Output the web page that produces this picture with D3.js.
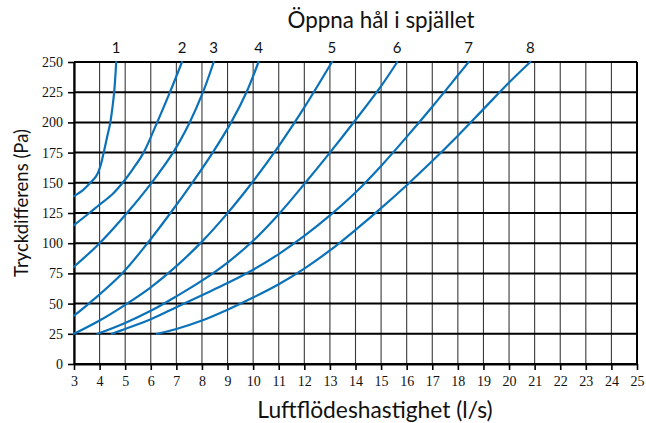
<!DOCTYPE html>
<html>
<head>
<meta charset="utf-8">
<script src="https://cdn.jsdelivr.net/npm/d3@7"></script>
<style>
  body { margin: 0; background: #fff; }
  svg { display: block; }
</style>
</head>
<body>
<div id="app"></div>
<script>
// opening labels (number of open holes in the damper)
const holes = ["1", "2", "3", "4", "5", "6", "7", "8"];

// each curve: [flow l/s, pressure Pa]
const curve1 = [[3, 139], [3.35, 144], [3.64, 150], [3.88, 156], [4.02, 163], [4.15, 174], [4.29, 187.5], [4.42, 200], [4.5, 212], [4.57, 225], [4.65, 250]];
const curve2 = [[3, 115], [3.6, 125], [4, 132], [4.5, 140.5], [4.9, 150], [5.32, 162], [5.72, 175], [6.25, 200], [6.75, 225], [7.22, 250]];
const curve3 = [[3, 80.5], [4, 100], [5.07, 125], [6.03, 150], [6.87, 175], [7.52, 200], [8.04, 225], [8.46, 250]];
const curve4 = [[3, 40], [3.58, 50], [4.88, 75], [5.87, 100], [6.77, 125], [7.62, 150], [8.42, 175], [9.14, 200], [9.74, 225], [10.21, 250]];
const curve5 = [[3, 25], [4, 36], [5, 49], [6, 63.5], [7, 81], [8, 101.3], [9, 124.9], [10, 151.3], [11, 180.4], [12, 212.4], [13.08, 250]];
const curve6 = [[3.92, 25], [5, 34], [6, 44], [7, 56], [8, 69], [9, 84], [10, 102], [11, 124], [12, 149], [13, 175], [14, 202], [15, 230], [15.63, 250]];
const curve7 = [[4.48, 25], [5, 29], [6, 37], [7, 47], [8, 57], [9, 67], [10, 78], [11, 91], [12, 106], [13, 123], [14, 142], [15, 164], [16, 188], [17, 213], [18, 239], [18.42, 250]];
const curve8 = [[6.24, 25], [7, 29], [8, 36], [9, 45], [10, 55], [11, 66], [12, 79], [13, 94], [14, 111], [15, 129], [16, 148], [17, 168], [18, 189], [19, 211], [20, 233], [20.83, 250]];
const curves = [curve1, curve2, curve3, curve4, curve5, curve6, curve7, curve8];

const xTicks = d3.range(3, 26);
const yTicks = [0, 25, 50, 75, 100, 125, 150, 175, 200, 225, 250];

const width = 646;
const height = 423;
const margin = { top: 62, right: 9, bottom: 59, left: 74 };

const svg = d3
  .select("#app")
  .append("svg")
  .attr("width", width)
  .attr("height", height)
  .attr("viewBox", [0, 0, width, height]);

const x = d3.scaleLinear().domain([3, 25]).range([margin.left, width - margin.right]);
const y = d3.scaleLinear().domain([0, 250]).range([height - margin.bottom, margin.top]);

const blue = "#0b72b9";

// vertical grid
svg
  .append("g")
  .selectAll("line")
  .data(xTicks)
  .join("line")
  .attr("x1", (d) => x(d))
  .attr("x2", (d) => x(d))
  .attr("y1", y(0))
  .attr("y2", y(250))
  .attr("stroke", "#3a3a3a")
  .attr("stroke-width", 1.1);

// horizontal grid
svg
  .append("g")
  .selectAll("line")
  .data(yTicks)
  .join("line")
  .attr("x1", x(3))
  .attr("x2", x(25))
  .attr("y1", (d) => y(d))
  .attr("y2", (d) => y(d))
  .attr("stroke", "#000")
  .attr("stroke-width", 2);

// right border
svg
  .append("line")
  .attr("x1", x(25))
  .attr("x2", x(25))
  .attr("y1", y(0))
  .attr("y2", y(250))
  .attr("stroke", "#000")
  .attr("stroke-width", 2);

// axes
const xAxis = svg
  .append("g")
  .attr("transform", `translate(0,${y(0)})`)
  .call(d3.axisBottom(x).tickValues(xTicks).tickSize(6).tickSizeOuter(0).tickPadding(6));

const yAxis = svg
  .append("g")
  .attr("transform", `translate(${x(3)},0)`)
  .call(d3.axisLeft(y).tickValues(yTicks).tickSize(6).tickSizeOuter(0).tickPadding(5));

[xAxis, yAxis].forEach((a) => {
  a.select(".domain").attr("stroke", "#000").attr("stroke-width", 2.2);
  a.selectAll(".tick line").attr("stroke", "#000").attr("stroke-width", 1.6);
  a.selectAll(".tick text")
    .attr("fill", "#111")
    .style("font-family", "'Liberation Serif', serif")
    .style("font-size", "14px");
});

// curves
const line = d3
  .line()
  .x((d) => x(d[0]))
  .y((d) => y(d[1]))
  .curve(d3.curveCatmullRom.alpha(0.5));

svg
  .append("g")
  .selectAll("path")
  .data(curves)
  .join("path")
  .attr("d", line)
  .attr("fill", "none")
  .attr("stroke", blue)
  .attr("stroke-width", 2.2)
  .attr("stroke-linecap", "round");

// curve labels at the top end of each curve
svg
  .append("g")
  .selectAll("text")
  .data(curves)
  .join("text")
  .attr("x", (d) => x(d[d.length - 1][0]))
  .attr("y", 53)
  .attr("text-anchor", "middle")
  .attr("fill", "#111")
  .style("font-family", "Lato, sans-serif")
  .style("font-size", "15px")
  .text((d, i) => holes[i]);

// titles
const titleFont = "Lato, 'Noto Sans', sans-serif";

svg
  .append("text")
  .attr("x", 381)
  .attr("y", 28)
  .attr("text-anchor", "middle")
  .attr("fill", "#111")
  .style("font-family", titleFont)
  .style("font-size", "22.4px")
  .text("Öppna hål i spjället");

svg
  .append("text")
  .attr("x", 375)
  .attr("y", 418)
  .attr("text-anchor", "middle")
  .attr("fill", "#111")
  .style("font-family", titleFont)
  .style("font-size", "22.8px")
  .text("Luftflödeshastighet (l/s)");

svg
  .append("text")
  .attr("transform", "translate(28,203) rotate(-90)")
  .attr("text-anchor", "middle")
  .attr("fill", "#111")
  .style("font-family", titleFont)
  .style("font-size", "18.5px")
  .text("Tryckdifferens (Pa)");
</script>
</body>
</html>
